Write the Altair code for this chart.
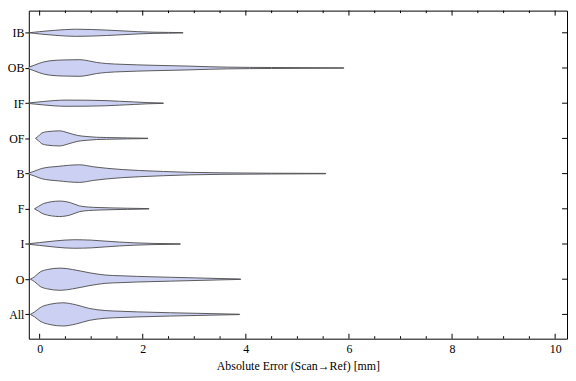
import altair as alt
import pandas as pd

# ---------------- data ----------------
categories = ["IB", "OB", "IF", "OF", "B", "F", "I", "O", "All"]
positions = [1, 2, 3, 4, 5, 6, 7, 8, 9]

# violin profiles: error value (mm) and half-width reading (px at reference scale)
ib_x = [-0.21, -0.1, 0.0, 0.3, 0.7, 1.0, 1.3, 1.6, 1.9, 2.2, 2.5, 2.78]
ib_w = [0.0, 0.6, 1.2, 2.6, 3.7, 3.4, 2.8, 2.0, 1.2, 0.6, 0.4, 0.2]

ob_x = [-0.21, -0.1, 0.08, 0.32, 0.55, 0.78, 0.95, 1.1, 1.3, 1.6, 2.2, 2.86, 3.3, 3.64, 4.5, 5.9]
ob_w = [0.8, 3.0, 6.3, 8.0, 8.4, 8.6, 7.4, 5.8, 4.6, 3.8, 2.8, 2.0, 1.3, 0.9, 0.5, 0.2]

if_x = [-0.21, 0.08, 0.3, 0.51, 0.9, 1.27, 1.55, 1.84, 2.1, 2.4]
if_w = [0.3, 1.8, 2.8, 3.2, 3.1, 2.7, 2.0, 1.3, 0.6, 0.2]

of_x = [-0.08, -0.02, 0.04, 0.15, 0.39, 0.55, 0.74, 0.9, 1.1, 1.3, 1.7, 2.1]
of_w = [0.0, 2.5, 5.5, 7.0, 7.8, 5.8, 3.0, 2.0, 1.2, 0.9, 0.5, 0.2]

b_x = [-0.21, -0.1, 0.04, 0.36, 0.77, 1.05, 1.3, 1.6, 1.94, 2.4, 2.9, 3.5, 4.5, 5.55]
b_w = [0.5, 2.5, 5.3, 7.5, 9.1, 7.0, 5.5, 4.2, 3.2, 2.2, 1.3, 0.8, 0.4, 0.2]

f_x = [-0.1, -0.02, 0.08, 0.39, 0.6, 0.77, 0.95, 1.15, 1.7, 2.12]
f_w = [0.0, 2.5, 5.5, 8.0, 6.3, 3.0, 1.8, 1.3, 0.6, 0.2]

i_x = [-0.21, 0.0, 0.32, 0.66, 1.0, 1.27, 1.55, 1.84, 2.2, 2.73]
i_w = [0.3, 1.5, 3.3, 4.4, 4.0, 3.0, 2.0, 1.2, 0.6, 0.2]

o_x = [-0.18, -0.1, 0.01, 0.15, 0.4, 0.64, 0.96, 1.27, 1.6, 1.9, 2.54, 3.07, 3.5, 3.9]
o_w = [0.0, 2.5, 7.5, 10.0, 11.5, 10.0, 6.7, 4.3, 3.5, 2.9, 2.0, 1.3, 0.7, 0.2]

all_x = [-0.18, -0.1, 0.01, 0.2, 0.45, 0.7, 0.96, 1.27, 1.6, 1.9, 2.54, 3.07, 3.5, 3.88]
all_w = [0.0, 2.5, 7.0, 10.5, 12.0, 10.0, 6.2, 4.0, 3.2, 2.6, 1.7, 1.1, 0.6, 0.2]

major_ticks = [0, 2, 4, 6, 8, 10]
minor_ticks = [0.5, 1, 1.5, 2.5, 3, 3.5, 4.5, 5, 5.5, 6.5, 7, 7.5, 8.5, 9, 9.5]

# ---------------- build tables ----------------
PX_PER_UNIT = 36.4  # reference pixels per category step (converts width readings)
profiles = {
    "IB": (ib_x, ib_w), "OB": (ob_x, ob_w), "IF": (if_x, if_w),
    "OF": (of_x, of_w), "B": (b_x, b_w), "F": (f_x, f_w),
    "I": (i_x, i_w), "O": (o_x, o_w), "All": (all_x, all_w),
}
rows = []
for cat, pos in zip(categories, positions):
    xs, ws = profiles[cat]
    for x, w in zip(xs, ws):
        rows.append({"cat": cat, "x": x, "lo": pos - w / PX_PER_UNIT, "hi": pos + w / PX_PER_UNIT})
df = pd.DataFrame(rows)

W, H = 543, 331
FONT = "Liberation Serif"

xscale = alt.Scale(domain=[-0.21, 10.23], nice=False, zero=False)
yscale = alt.Scale(domain=[0.37, 9.69], reverse=True, nice=False, zero=False)

label_expr = "[" + ",".join("'" + c + "'" for c in categories) + "][datum.value - 1]"

xaxis = alt.Axis(values=major_ticks, ticks=False, domain=False, grid=False,
                 labelFont=FONT, labelFontSize=12, labelColor="black", labelPadding=5,
                 format="d", title="Absolute Error (Scan→Ref) [mm]", titleFont=FONT,
                 titleFontSize=12, titleFontWeight="normal", titleColor="black",
                 titlePadding=6)
yaxis = alt.Axis(values=positions, labelExpr=label_expr, ticks=True, tickSize=4,
                 tickColor="black", domain=False, grid=False, labelFont=FONT,
                 labelFontSize=12, labelColor="black", labelPadding=1, title=None)

violins = alt.Chart(df).mark_area(
    interpolate="monotone", fill="#ccd0f2", stroke="#4a4a4a", strokeWidth=0.9, clip=True
).encode(
    x=alt.X("x:Q", scale=xscale, axis=xaxis),
    y=alt.Y("lo:Q", scale=yscale, axis=yaxis),
    y2="hi:Q",
    detail="cat:N",
)

major_df = pd.DataFrame({"x": major_ticks})
minor_df = pd.DataFrame({"x": minor_ticks})
pos_df = pd.DataFrame({"lo": positions})


def xtick(data, y0, y1):
    return alt.Chart(data).mark_rule(color="black", strokeWidth=1).encode(
        x=alt.X("x:Q", scale=xscale, axis=xaxis),
        y=alt.value(y0), y2=alt.value(y1),
    )


ticks = [
    xtick(major_df, H - 5, H), xtick(minor_df, H - 2.5, H),
    xtick(major_df, 0, 5), xtick(minor_df, 0, 2.5),
]
right_ticks = alt.Chart(pos_df).mark_rule(color="black", strokeWidth=1).encode(
    y=alt.Y("lo:Q", scale=yscale, axis=yaxis),
    x=alt.value(W - 5), x2=alt.value(W),
)

chart = alt.layer(violins, *ticks, right_ticks).properties(
    width=W, height=H,
    autosize=alt.AutoSizeParams(type="none"),
    padding={"left": 21, "top": 1, "right": 1, "bottom": 36},
).configure_view(stroke="black", strokeWidth=1)

chart.save("out.html", embed_options={"renderer": "svg", "actions": False})
